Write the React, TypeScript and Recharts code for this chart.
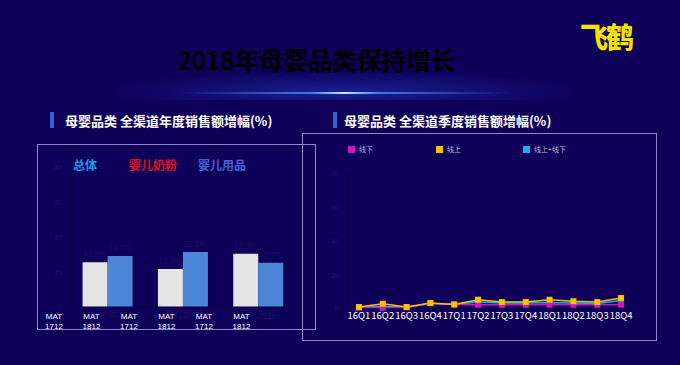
import { BarChart, Bar, XAxis, YAxis, LabelList, LineChart, Line } from "recharts"

const categories = ["总体", "婴儿奶粉", "婴儿用品"]
const mat1712 = [12.9, 10.9, 15.3]
const mat1812 = [14.7, 15.8, 12.7]
const leftTicks = [0, 10, 20, 30, 40]
const matLabels = ["1712", "1812", "1712", "1812", "1712", "1812"]
const topLabels = ["总体", "婴儿奶粉", "婴儿用品"]
const topColors = ["#1c9ce6", "#e3121c", "#4664d2"]

const quarters = ["16Q1", "16Q2", "16Q3", "16Q4", "17Q1", "17Q2", "17Q3", "17Q4", "18Q1", "18Q2", "18Q3", "18Q4"]
const offline = [0.7, 0.7, 0.9, 3.4, 2.6, 2.5, 2.5, 2.5, 2.6, 2.5, 2.5, 2.6]
const online = [1.2, 3.1, 1.2, 3.6, 2.7, 5.5, 4.1, 4.1, 5.5, 4.6, 4.1, 6.5]
const omni = [1.0, 1.5, 1.0, 3.3, 2.8, 4.1, 3.5, 3.5, 3.8, 3.5, 3.3, 5.0]
const rightTicks = [0, 20, 40, 60, 80]
const seriesNames = ["线下", "线上", "线上+线下"]
const seriesColors = ["#d414c4", "#f6c400", "#12b4f4"]

const barData = categories.map((c, i) => ({ name: c, a: mat1712[i], b: mat1812[i] }))
const lineData = quarters.map((q, i) => ({ q, off: offline[i], on: online[i], all: omni[i] }))

const FONT = '"Noto Sans CJK SC", "Noto Sans", sans-serif'

const square = (color: string, size: number) => (props: any) => (
  <rect
    key={`sq-${color}-${props.index}`}
    x={props.cx - size / 2}
    y={props.cy - size / 2}
    width={size}
    height={size}
    fill={color}
  />
)

export default function App() {
  return (
    <div
      style={{
        position: "absolute",
        left: 0,
        top: 0,
        width: 680,
        height: 365,
        overflow: "hidden",
        background: "#0f0059",
        fontFamily: FONT,
      }}
    >
      {/* top glow */}
      <div
        style={{
          position: "absolute",
          left: 0,
          top: 0,
          width: 680,
          height: 100,
          background: "radial-gradient(ellipse 240px 22px at 345px 92px, rgba(40,70,220,0.45), rgba(15,0,89,0) 100%)",
        }}
      />
      <div
        style={{
          position: "absolute",
          left: 180,
          top: 92,
          width: 330,
          height: 2,
          background: "linear-gradient(90deg, rgba(40,120,255,0), rgba(70,170,255,0.7) 40%, #c8ecff 50%, rgba(70,170,255,0.7) 60%, rgba(40,120,255,0))",
        }}
      />

      {/* title */}
      <div
        style={{
          position: "absolute",
          left: 0,
          width: 632,
          top: 41,
          textAlign: "center",
          fontSize: 25,
          fontWeight: 700,
          color: "#000",
          letterSpacing: -0.5,
        }}
      >
        2018年母婴品类保持增长
      </div>

      {/* logo */}
      <div
        style={{
          position: "absolute",
          left: 580,
          top: 16,
          fontSize: 28,
          fontWeight: 900,
          color: "#f2e400",
          letterSpacing: -2,
        }}
      >
        飞鹤
      </div>

      {/* section headers */}
      <div style={{ position: "absolute", left: 50, top: 112, width: 4, height: 16, background: "#3b5fd0" }} />
      <div style={{ position: "absolute", left: 65, top: 111, fontSize: 13, fontWeight: 700, color: "#fff" }}>
        母婴品类 全渠道年度销售额增幅(%)
      </div>
      <div style={{ position: "absolute", left: 333, top: 112, width: 4, height: 16, background: "#3b5fd0" }} />
      <div style={{ position: "absolute", left: 344, top: 111, fontSize: 13, fontWeight: 700, color: "#fff" }}>
        母婴品类 全渠道季度销售额增幅(%)
      </div>

      {/* frames */}
      <div style={{ position: "absolute", left: 302, top: 133, width: 355, height: 208, border: "1.5px solid #8e88c8", boxSizing: "border-box" }} />
      <div style={{ position: "absolute", left: 37, top: 144, width: 279, height: 186, border: "1.5px solid #8e88c8", boxSizing: "border-box" }} />

      {/* left chart top labels */}
      {topLabels.map((t, i) => (
        <div
          key={t}
          style={{
            position: "absolute",
            left: [73, 129, 198][i],
            top: 156,
            fontSize: 12,
            fontWeight: 700,
            color: topColors[i],
          }}
        >
          {t}
        </div>
      ))}

      {/* left bar chart */}
      <div style={{ position: "absolute", left: 30, top: 150 }}>
        <BarChart
          width={280}
          height={180}
          data={barData}
          margin={{ top: 18, right: 14, bottom: 0, left: 0 }}
          barCategoryGap="16.7%"
          barGap={0}
        >
          <XAxis
            dataKey="name"
            height={23}
            axisLine={{ stroke: "#07003f" }}
            tickLine={false}
            tick={{ fill: "#180f62", fontSize: 9, dy: -3 }}
          />
          <YAxis
            width={40}
            domain={[0, 40]}
            ticks={leftTicks}
            axisLine={{ stroke: "#07003f" }}
            tickLine={false}
            tick={{ fill: "#1e156e", fontSize: 7 }}
          />
          <Bar dataKey="a" fill="#e4e4e4" isAnimationActive={false}>
            <LabelList dataKey="a" position="top" formatter={(v: any) => `${v}%`} style={{ fill: "#180f62", fontSize: 8 }} />
          </Bar>
          <Bar dataKey="b" fill="#4c84d8" isAnimationActive={false}>
            <LabelList dataKey="b" position="top" formatter={(v: any) => `${v}%`} style={{ fill: "#180f62", fontSize: 8 }} />
          </Bar>
        </BarChart>
      </div>

      {/* MAT labels */}
      {matLabels.map((m, i) => (
        <div
          key={i}
          style={{
            position: "absolute",
            left: 54 + i * 37.5 - 15,
            width: 30,
            top: 312,
            textAlign: "center",
            fontSize: 8,
            lineHeight: "10px",
            color: "#fff",
            fontFamily: '"Liberation Sans", Arial, sans-serif',
          }}
        >
          MAT
          <br />
          {m}
        </div>
      ))}

      {/* right legend */}
      {seriesNames.map((s, i) => (
        <div
          key={s}
          style={{
            position: "absolute",
            left: [348, 436, 523][i],
            top: 144,
            display: "flex",
            alignItems: "center",
            gap: 4,
            fontSize: 7,
            color: "#b8b4dc",
          }}
        >
          <div style={{ width: 7, height: 7, background: seriesColors[i] }} />
          {s}
        </div>
      ))}

      {/* right line chart */}
      <div style={{ position: "absolute", left: 320, top: 160 }}>
        <LineChart width={330} height={170} data={lineData} margin={{ top: 14, right: 17, bottom: 0, left: 0 }}>
          <XAxis
            dataKey="q"
            scale="band"
            height={21}
            axisLine={{ stroke: "#07003f" }}
            tickLine={false}
            interval={0}
            tick={{ fill: "#fff", fontSize: 9.5, dy: -5 }}
          />
          <YAxis
            width={27}
            domain={[0, 80]}
            ticks={rightTicks}
            axisLine={{ stroke: "#050033" }}
            tickLine={false}
            tick={{ fill: "#1d1570", fontSize: 7 }}
          />
          <Line dataKey="all" stroke={seriesColors[2]} strokeWidth={1.5} dot={square(seriesColors[2], 5)} isAnimationActive={false} />
          <Line dataKey="off" stroke={seriesColors[0]} strokeWidth={1.5} dot={square(seriesColors[0], 6)} isAnimationActive={false} />
          <Line dataKey="on" stroke={seriesColors[1]} strokeWidth={1.5} dot={square(seriesColors[1], 6)} isAnimationActive={false} />
        </LineChart>
      </div>
    </div>
  )
}
